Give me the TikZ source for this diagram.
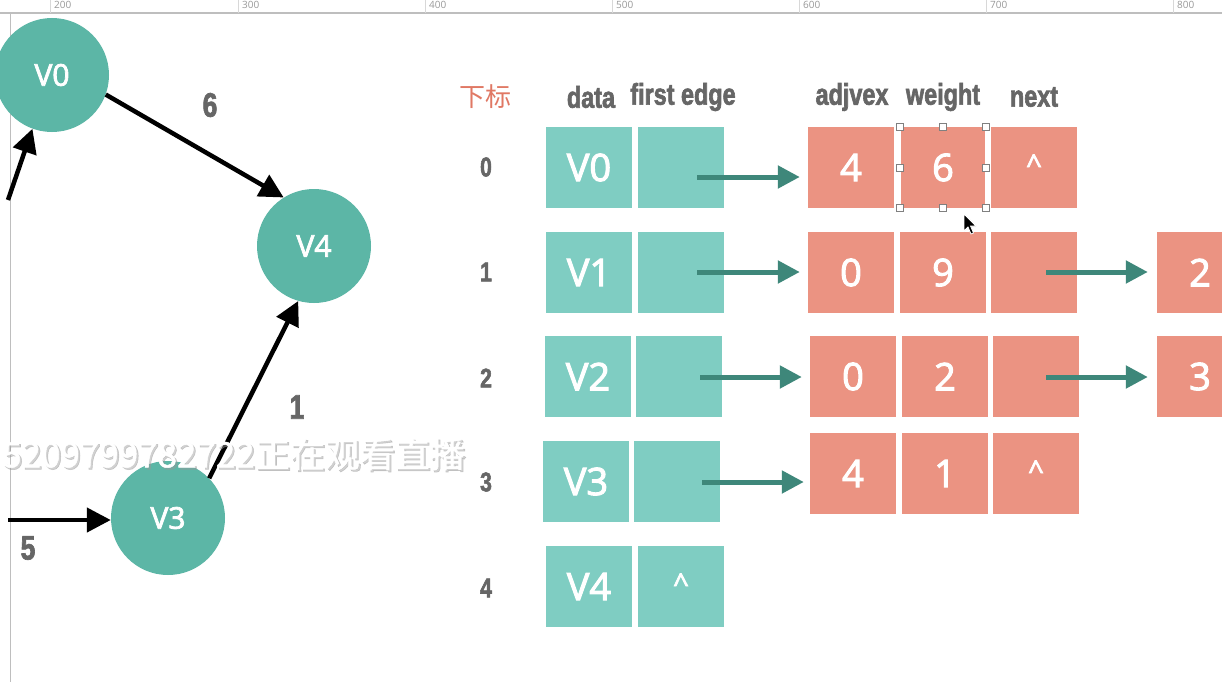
\documentclass[tikz,border=0pt]{standalone}
\usepackage{fontspec}
\usetikzlibrary{arrows.meta}
\setmainfont{Open Sans}
\newfontfamily\cellf[FakeBold=2.6]{Open Sans}
\newfontfamily\rulf{Open Sans}
\newfontfamily\hdrf[FakeStretch=0.78,FakeBold=2]{Liberation Sans}
\newfontfamily\cjk{Noto Sans CJK SC}
\newfontfamily\cjkb[FakeBold=1.5]{Noto Sans CJK SC}
\definecolor{circ}{RGB}{92,182,166}
\definecolor{cellt}{RGB}{127,205,194}
\definecolor{arrt}{RGB}{62,135,122}
\definecolor{salm}{RGB}{235,147,130}
\definecolor{hdrc}{RGB}{102,102,102}
\definecolor{redc}{RGB}{224,120,100}
\definecolor{rulc}{RGB}{190,190,190}
\tikzset{
  vtx/.style={circle,fill=circ,minimum size=114pt,inner sep=0pt,text=white,font=\cellf\fontsize{30}{30}\selectfont},
  tcell/.style={rectangle,fill=cellt,minimum width=86pt,minimum height=81pt,inner sep=0pt,text=white,font=\cellf\fontsize{38}{38}\selectfont},
  scell/.style={rectangle,fill=salm,minimum width=86pt,minimum height=81pt,inner sep=0pt,text=white,font=\cellf\fontsize{38}{38}\selectfont},
  hdr/.style={text=hdrc,font=\hdrf\bfseries\fontsize{30}{30}\selectfont,inner sep=0pt},
  idx/.style={text=hdrc,font=\hdrf\bfseries\fontsize{27}{27}\selectfont,inner sep=0pt},
  elab/.style={text=hdrc,font=\hdrf\bfseries\fontsize{34}{34}\selectfont,inner sep=0pt},
  barrow/.style={line width=4.5pt,black,-{Triangle[length=24pt,width=24pt]}},
  tarrow/.style={line width=5pt,arrt,-{Triangle[length=22pt,width=22pt]}},
  handle/.style={rectangle,draw=gray,fill=white,line width=0.6pt,minimum size=7pt,inner sep=0pt},
  rullab/.style={text=gray!80,font=\rulf\fontsize{10}{10}\selectfont,inner sep=0pt,anchor=west},
}
\begin{document}
\begin{tikzpicture}[x=1pt,y=-1pt]
\useasboundingbox (0,0) rectangle (1222,682);
\clip (0,0) rectangle (1222,682);
\fill[white] (0,0) rectangle (1222,682);
% rulers
\draw[rulc,line width=1.5pt] (0,13) -- (1222,13);
\draw[rulc,line width=1pt] (10,13) -- (10,682);
\foreach \x/\l in {50/200,238/300,425/400,612/500,799/600,986/700,1173/800}{
  \draw[rulc!60,line width=0.6pt] (\x,0) -- (\x,13);
  \node[rullab] (r\l) at (\x+4,5) {\l};
}
% graph
\node[vtx] (V0) at (52,75) {V0};
\node[vtx] (V4) at (314,246) {V4};
\node[vtx] (V3) at (168,518) {V3};
\coordinate (in0) at (8,200);
\coordinate (in3) at (8,520);
\draw[barrow] (V0.-20) -- (V4.122);
\draw[barrow] (V3.44) -- (V4.254);
\draw[barrow] (in3) -- (V3.west |- in3);
\draw[barrow] (in0) -- (V0.250);
\node[elab] (l6) at (210,105) {6};
\node[elab] (l1) at (297,407) {1};
\node[elab] (l5) at (28,548) {5};
% headers
\node[text=redc,font=\cjk\fontsize{26}{26}\selectfont,inner sep=0pt] (hidx) at (485,97) {下标};
\node[hdr] (hdata) at (591,97) {data};
\node[hdr] (hfe) at (683,97) {first edge};
\node[hdr] (hadj) at (852,97) {adjvex};
\node[hdr] (hw) at (943,97) {weight};
\node[hdr] (hnx) at (1034,97) {next};
% indices
\node[idx] (i0) at (486,167) {0};
\node[idx] (i1) at (486,272) {1};
\node[idx] (i2) at (486,378) {2};
\node[idx] (i3) at (486,482) {3};
\node[idx] (i4) at (486,588) {4};
% vertex table
\node[tcell] (d0) at (589,167.5) {V0};
\node[tcell] (f0) at (681,167.5) {};
\node[tcell] (d1) at (589,272.5) {V1};
\node[tcell] (f1) at (681,272.5) {};
\node[tcell] (d2) at (588,376.5) {V2};
\node[tcell] (f2) at (679,376.5) {};
\node[tcell] (d3) at (586,481.5) {V3};
\node[tcell] (f3) at (677,481.5) {};
\node[tcell] (d4) at (589,586.5) {V4};
\node[tcell,font=\cellf\fontsize{28}{28}\selectfont] (f4) at (681,586.5) {\raisebox{6pt}{\^{}}};
% edge tables
\node[scell] (a0) at (851,167.5) {4};
\node[scell] (w0) at (943,167.5) {6};
\node[scell,font=\cellf\fontsize{28}{28}\selectfont] (n0) at (1034,167.5) {\raisebox{6pt}{\^{}}};
\node[scell] (a1) at (851,272.5) {0};
\node[scell] (w1) at (943,272.5) {9};
\node[scell] (n1) at (1034,272.5) {};
\node[scell] (e1) at (1200,272.5) {2};
\node[scell] (a2) at (853,376.5) {0};
\node[scell] (w2) at (945,376.5) {2};
\node[scell] (n2) at (1036,376.5) {};
\node[scell] (e2) at (1200,376.5) {3};
\node[scell] (a3) at (853,473.5) {4};
\node[scell] (w3) at (945,473.5) {1};
\node[scell,font=\cellf\fontsize{28}{28}\selectfont] (n3) at (1036,473.5) {\raisebox{6pt}{\^{}}};
% pointer arrows
\coordinate (p0) at (697,177);
\coordinate (p1) at (697,272);
\coordinate (p2) at (700,377);
\coordinate (p3) at (702,482);
\coordinate (q1) at (1046,272);
\coordinate (q2) at (1046,377);
\draw[tarrow,shorten >=8pt] (p0) -- (a0.west |- p0);
\draw[tarrow,shorten >=8pt] (p1) -- (a1.west |- p1);
\draw[tarrow,shorten >=8pt] (p2) -- (a2.west |- p2);
\draw[tarrow,shorten >=6pt] (p3) -- (a3.west |- p3);
\draw[tarrow,shorten >=9pt] (q1) -- (e1.west |- q1);
\draw[tarrow,shorten >=9pt] (q2) -- (e2.west |- q2);
% selection
\draw[white,line width=1.5pt] (w0.north west) -- (w0.south west) (w0.north east) -- (w0.south east);
\foreach \a in {north west,north,north east,west,east,south west,south,south east}{
  \node[handle] at (w0.\a) {};
}
% cursor
\coordinate (cur) at (964,214);
\fill[black,draw=white,line width=0.8pt] (cur) -- ++(0,17) -- ++(4,-4) -- ++(3,7) -- ++(2.5,-1) -- ++(-3,-7) -- ++(5.5,0) -- cycle;
% overlay text
\node[anchor=west,text=black!40,opacity=0.45,font=\cjkb\fontsize{35}{35}\selectfont,inner sep=0pt] (wms) at (4,456) {5209799782722正在观看直播};
\node[anchor=west,text=white,font=\cjkb\fontsize{35}{35}\selectfont,inner sep=0pt] (wm) at (2,454) {5209799782722正在观看直播};
\end{tikzpicture}
\end{document}
